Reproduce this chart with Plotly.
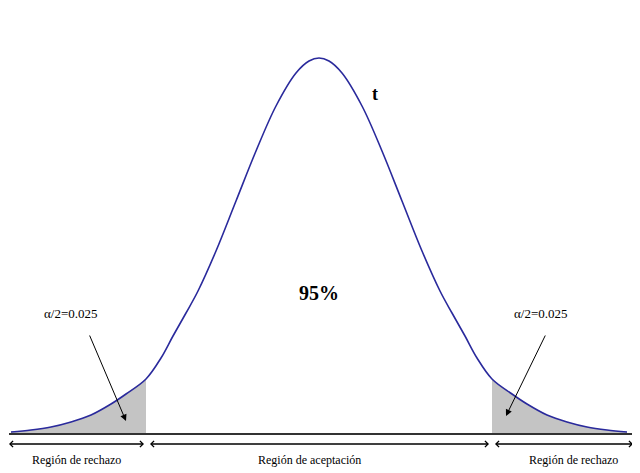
import plotly.graph_objects as go

# curve (pixel coords, y grows downward)
left_x = [10, 30, 50, 70, 90, 110, 125, 145, 160, 172, 185, 197, 215, 235, 255, 275, 295, 308]
left_y = [431, 429, 426, 421, 414, 403, 393, 378, 357, 335, 312, 290, 250, 200, 150, 105, 72, 60]
peak_x, peak_y = 318, 57
curve_x = left_x + [peak_x] + [2 * peak_x - x for x in reversed(left_x)]
curve_y = left_y + [peak_y] + list(reversed(left_y))
baseline = 433
crit_left, crit_right = 145, 491

fig = go.Figure()

# rejection tails
lx = [x for x in curve_x if x <= crit_left]
ly = curve_y[:len(lx)]
rx = [x for x in curve_x if x >= crit_right]
ry = curve_y[len(curve_x) - len(rx):]
for xs, ys in [(lx, ly), (rx, ry)]:
    fig.add_trace(go.Scatter(x=xs + [xs[-1], xs[0]], y=ys + [baseline, baseline],
                             fill='toself', fillcolor='#c4c4c4', mode='none'))

fig.add_trace(go.Scatter(x=curve_x, y=curve_y, mode='lines', line_shape='spline',
                         line=dict(color='#2a2a9c', width=1.6)))
fig.add_trace(go.Scatter(x=[8, 632], y=[baseline, baseline], mode='lines',
                         line=dict(color='#333', width=2)))

serif = "Liberation Serif"
# double arrows under the axis
for a, b in [(8, 143), (149, 488), (494, 632)]:
    for s, e in [(a, b), (b, a)]:
        fig.add_annotation(x=e, y=443, ax=s, ay=443, xref='x', yref='y', axref='x', ayref='y',
                           text='', showarrow=True, arrowhead=4, arrowsize=1.2, arrowwidth=1,
                           arrowcolor='black')
for x, t in [(75, 'Región de rechazo'), (308, 'Región de aceptación'), (572, 'Región de rechazo')]:
    fig.add_annotation(x=x, y=459, text=t, showarrow=False, font=dict(family=serif, size=12, color='black'))

fig.add_annotation(x=318, y=292, text='<b>95%</b>', showarrow=False, font=dict(family=serif, size=20, color='black'))
fig.add_annotation(x=374, y=93, text='<b>t</b>', showarrow=False, font=dict(family=serif, size=18, color='black'))
for x, (sx, ex, ey) in [(70, (88, 125, 420)), (540, (545, 505, 415))]:
    fig.add_annotation(x=x, y=312, text='α/2=0.025', showarrow=False,
                       font=dict(family=serif, size=13, color='black'))
    fig.add_annotation(x=ex, y=ey, ax=sx, ay=333, xref='x', yref='y', axref='x', ayref='y',
                       text='', showarrow=True, arrowhead=2, arrowsize=1.3, arrowwidth=1, arrowcolor='black')

# page has an 8px body margin, so shift the ranges to compensate
fig.update_xaxes(range=[7, 647], visible=False)
fig.update_yaxes(range=[480, 7], visible=False)
fig.update_layout(width=640, height=473, margin=dict(l=0, r=0, t=0, b=0),
                  plot_bgcolor='white', paper_bgcolor='white', showlegend=False)
fig.write_html("out.html")
